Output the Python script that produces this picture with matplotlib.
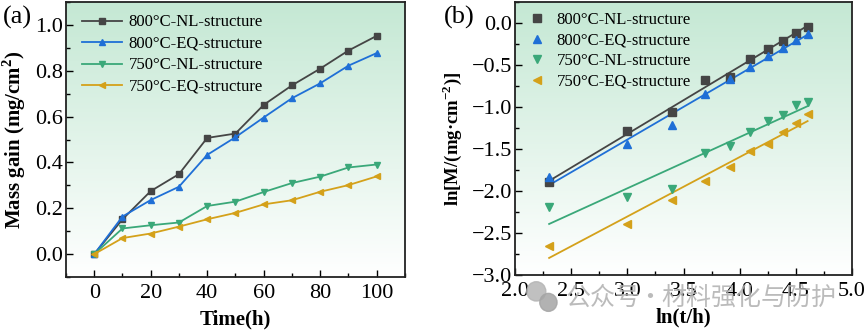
import numpy as np
import matplotlib
matplotlib.use('Agg')
import matplotlib.pyplot as plt
from matplotlib.ticker import MultipleLocator, AutoMinorLocator
from matplotlib.patches import Ellipse

plt.rcParams['font.family'] = ['Liberation Serif', 'DejaVu Serif']
plt.rcParams['mathtext.fontset'] = 'custom'
plt.rcParams['mathtext.rm'] = 'Liberation Serif'
plt.rcParams['mathtext.bf'] = 'Liberation Serif:bold'

# ---- data ----
time_h = [0, 10, 20, 30, 40, 50, 60, 70, 80, 90, 100]
gain_800_nl = [0, 0.152, 0.275, 0.349, 0.507, 0.526, 0.651, 0.736, 0.809, 0.888, 0.952]
gain_800_eq = [0, 0.164, 0.236, 0.294, 0.433, 0.510, 0.596, 0.680, 0.745, 0.822, 0.877]
gain_750_nl = [0, 0.112, 0.126, 0.138, 0.210, 0.229, 0.271, 0.310, 0.338, 0.378, 0.391]
gain_750_eq = [0, 0.070, 0.090, 0.120, 0.152, 0.180, 0.217, 0.235, 0.272, 0.301, 0.339]

ln_t = [2.303, 2.996, 3.401, 3.689, 3.912, 4.094, 4.248, 4.382, 4.500, 4.605]
lnm_800_nl = [-1.895, -1.290, -1.058, -0.679, -0.640, -0.430, -0.308, -0.209, -0.118, -0.051]
lnm_800_eq = [-1.835, -1.441, -1.212, -0.849, -0.671, -0.521, -0.387, -0.296, -0.205, -0.130]
lnm_750_nl = [-2.190, -2.065, -1.974, -1.550, -1.468, -1.295, -1.172, -1.093, -0.975, -0.940]
lnm_750_eq = [-2.657, -2.388, -2.104, -1.875, -1.717, -1.520, -1.441, -1.295, -1.196, -1.086]

labels = ['800\u00b0C-NL-structure', '800\u00b0C-EQ-structure',
          '750\u00b0C-NL-structure', '750\u00b0C-EQ-structure']
colors = ['#454545', '#1f6fd6', '#3aa879', '#d4a11a']
markers = ['s', '^', 'v', '<']


def gradient_bg(ax):
    top = np.array([0.77, 0.91, 0.83])
    bot = np.array([1.0, 1.0, 1.0])
    f = np.linspace(0, 1, 256)[:, None]
    img = top[None, :] * (1 - f) + bot[None, :] * f
    img = np.repeat(img[:, None, :], 2, axis=1)
    ax.imshow(img, extent=[0, 1, 0, 1], transform=ax.transAxes,
              aspect='auto', zorder=0, interpolation='bilinear')


def style_axes(ax):
    ax.tick_params(which='both', direction='in', labelsize=16, width=1.0)
    ax.tick_params(which='major', length=5)
    ax.tick_params(which='minor', length=3)
    ax.tick_params(axis='y', pad=2)
    ax.tick_params(axis='x', pad=5)
    for s in ax.spines.values():
        s.set_linewidth(1.3)
        s.set_color('#222222')


fig = plt.figure(figsize=(8.65, 3.33), dpi=100)
ax1 = fig.add_axes([0.0763, 0.168, 0.3917, 0.826])
ax2 = fig.add_axes([0.5955, 0.174, 0.3894, 0.820])

# ---- (a) ----
gradient_bg(ax1)
series_a = [gain_800_nl, gain_800_eq, gain_750_nl, gain_750_eq]
for y, lab, c, m in zip(series_a, labels, colors, markers):
    ax1.plot(time_h, y, color=c, marker=m, markersize=5, lw=1.3, label=lab, zorder=3)
ax1.set_xlim(-10, 110)
ax1.set_ylim(-0.1, 1.1)
ax1.xaxis.set_major_locator(MultipleLocator(20))
ax1.xaxis.set_minor_locator(AutoMinorLocator(2))
ax1.yaxis.set_major_locator(MultipleLocator(0.2))
ax1.yaxis.set_minor_locator(AutoMinorLocator(2))
style_axes(ax1)
ax1.set_xlabel('Time(h)', fontsize=15, fontweight='bold', labelpad=5)
ax1.set_ylabel(r'Mass gain (mg/cm$^\mathbf{2}$)', fontsize=15, fontweight='bold', labelpad=5)
ax1.legend(loc='upper left', frameon=False, fontsize=12, handlelength=2.4,
           borderaxespad=0.35, labelspacing=0.33, handletextpad=0.4,
           bbox_to_anchor=(0.01, 1.0))
fig.text(0.003, 0.93, '(a)', fontsize=19)

# ---- (b) ----
gradient_bg(ax2)
series_b = [lnm_800_nl, lnm_800_eq, lnm_750_nl, lnm_750_eq]
xs = np.array(ln_t)
for y, lab, c, m in zip(series_b, labels, colors, markers):
    ax2.plot(ln_t, y, linestyle='none', color=c, marker=m, markersize=6, label=lab, zorder=3)
    k, b = np.polyfit(xs, np.array(y), 1)
    ax2.plot(xs[[0, -1]], k * xs[[0, -1]] + b, color=c, lw=1.3, zorder=2)
ax2.set_xlim(2.0, 5.0)
ax2.set_ylim(-3.0, 0.25)
ax2.xaxis.set_major_locator(MultipleLocator(0.5))
ax2.xaxis.set_minor_locator(AutoMinorLocator(2))
ax2.yaxis.set_major_locator(MultipleLocator(0.5))
ax2.yaxis.set_minor_locator(AutoMinorLocator(2))
ax2.xaxis.set_major_formatter(matplotlib.ticker.FormatStrFormatter('%.1f'))
ax2.yaxis.set_major_formatter(matplotlib.ticker.FuncFormatter(
    lambda v, p: ('%.1f' % v).replace('-', '\u2212')))
style_axes(ax2)
ax2.set_xlabel('ln(t/h)', fontsize=15, fontweight='bold', labelpad=5)
ax2.set_ylabel('ln[M/(mg\u00b7cm$^\\mathbf{-2}$)]', fontsize=13.5, fontweight='bold', labelpad=6)
ax2.legend(loc='upper left', frameon=False, fontsize=12, handlelength=1.4,
           borderaxespad=0.2, labelspacing=0.28, handletextpad=0.5,
           bbox_to_anchor=(0.0, 1.0))
fig.text(0.513, 0.93, '(b)', fontsize=19)

# watermark
wm = dict(fontsize=18, color='#b0b0b0', alpha=0.85, va='center',
          family=['Noto Sans CJK SC', 'DejaVu Sans'], zorder=10)
fig.text(0.654, 0.105, '\u516c\u4f17\u53f7', **wm)
fig.text(0.751, 0.105, '\u00b7', ha='center', **wm)
fig.text(0.765, 0.105, '\u6750\u6599\u5f3a\u5316\u4e0e\u9632\u62a4', **wm)
fig.patches.append(Ellipse((0.620, 0.125), 0.022, 0.058, transform=fig.transFigure,
                           color='#b5b5b5', alpha=0.85, zorder=10))
fig.patches.append(Ellipse((0.634, 0.092), 0.020, 0.054, transform=fig.transFigure,
                           color='#a5a5a5', alpha=0.85, zorder=10))

fig.savefig('out.png', dpi=100)
